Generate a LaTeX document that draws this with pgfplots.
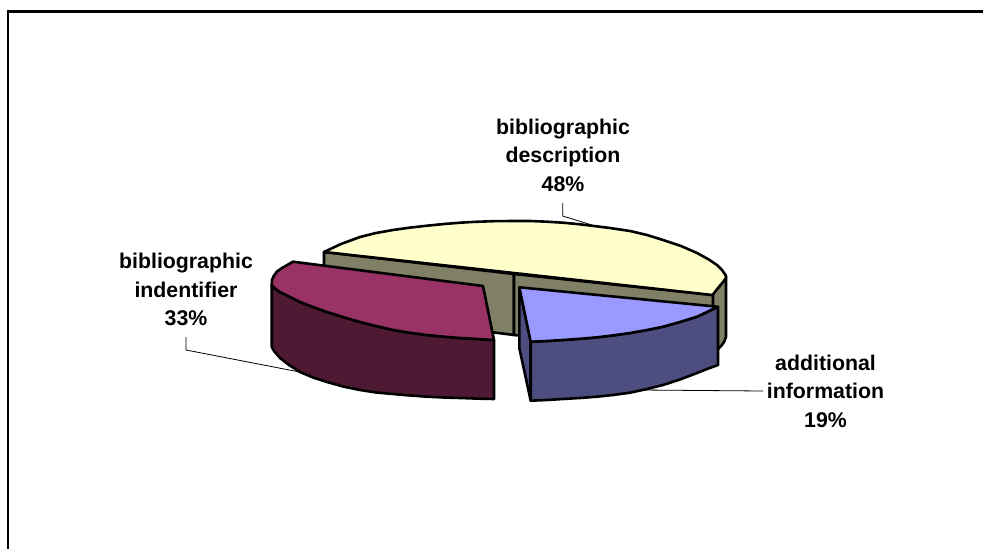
\documentclass[border=0pt]{standalone}
\usepackage{fontspec}
\setmainfont{Liberation Sans}
\usepackage{pgfplots}
\pgfplotsset{compat=1.18}
\definecolor{creamtop}{HTML}{FFFFCC}
\definecolor{creamwall}{HTML}{808066}
\definecolor{plumtop}{HTML}{993366}
\definecolor{plumwall}{HTML}{4D1933}
\definecolor{bluetop}{HTML}{9999FF}
\definecolor{bluewall}{HTML}{4D4D80}
\pgfplotsset{
  face/.style={draw=black, line width=2.6pt, line join=round, fill=#1, mark=none},
  leader/.style={draw=black, line width=0.8pt, mark=none},
}
\newcommand{\lbl}[3]{\node[anchor=base, font=\bfseries\fontsize{21.3}{24}\selectfont, inner sep=0pt] at (axis cs:#1,#2) {#3};}
\begin{document}
\begin{tikzpicture}
\begin{axis}[
  width=983pt, height=549pt, scale only axis,
  xmin=0, xmax=983, ymin=0, ymax=549, y dir=reverse,
  hide axis, clip=true,
  axis background/.style={fill=white},
]
% outer frame: only the top and left edges are visible
\addplot[draw=black, line width=2.6pt, mark=none] coordinates {(8,549) (8,11.7) (983,11.7)};

% leader lines behind the pie
\addplot[leader] coordinates {(186,337) (186,350) (310,374)};
\addplot[leader] coordinates {(562.7,203) (562.7,216) (592,225)};
\addplot[leader] coordinates {(640,390) (763,391)};

% cream slice: outer wall, two cut faces, top
\addplot[face=creamwall] coordinates {(712,295) (718,288) (723,282) (726,276) (726,337) (724.5,341) (722,345) (718,349) (712,356)} -- cycle;
\addplot[face=creamwall] coordinates {(324,252) (514,274) (514,335) (324,311)} -- cycle;
\addplot[face=creamwall] coordinates {(514,274) (713,295) (713,356) (514,335)} -- cycle;
\addplot[face=creamtop] coordinates {
  (324,252) (341,244) (360,237) (376,233) (393,230) (410,227.6) (427,225.7) (444,224) (460,222.7) (476,221.8)
  (493,221.2) (512,221) (530,221) (547,221.7) (563,222.7) (577,224) (590,225.5) (610,228) (630,231) (647,235)
  (663,240) (681,246) (697,253) (708,259) (717,265) (722,270) (725.5,275) (726,278) (723,282) (718,288) (712.5,295)
} -- cycle;

% plum slice, pulled out to the left
\addplot[face=plumwall] coordinates {
  (271.7,285) (275,288.5) (280,292) (290,297) (300,302) (313,307) (327,312) (343,317) (360,322) (376,326) (393,330)
  (410,332.8) (427,335) (444,336.7) (460,338) (477,339) (494,340)
  (494,399) (477,398.6) (460,398) (444,397.5) (427,396.7) (410,395.5) (393,394) (376,392.5) (360,390) (343,386.5)
  (327,382) (313,377.5) (300,372) (289,365) (280,358) (274,351) (271.7,346.7)
} -- cycle;
\addplot[face=plumtop] coordinates {
  (293,261.7) (483,286) (494,340) (477,339) (460,338) (444,336.7) (427,335) (410,332.8) (393,330) (376,326) (360,322)
  (343,317) (327,312) (313,307) (300,302) (290,297) (280,292) (275,288.5) (271.7,285) (272,280) (274,275.5) (277,271.5) (282,268)
} -- cycle;

% blue slice, pulled out to the front
\addplot[face=bluewall] coordinates {(519.3,287.3) (530.7,341.7) (530.7,400.7) (519.3,348)} -- cycle;
\addplot[face=bluewall] coordinates {
  (530.7,341.7) (547,341) (563,340) (580,338.8) (597,337.3) (613,335.4) (630,333) (647,330) (663,326.7) (680,322)
  (697,316.7) (707,312) (718,306.7)
  (718,365) (707,369) (697,373) (680,379.5) (663,385) (647,389) (630,392.7) (613,395) (597,396.7) (580,398) (563,399)
  (547,400) (530.7,400.7)
} -- cycle;
\addplot[face=bluetop] coordinates {
  (519.3,287.3) (717.5,306.7) (707,312) (697,316.7) (680,322) (663,326.7) (647,330) (630,333) (613,335.4) (597,337.3)
  (580,338.8) (563,340) (547,341) (530.7,341.7)
} -- cycle;

% slice labels
\lbl{563}{134}{bibliographic}
\lbl{563}{162.5}{description}
\lbl{563}{191}{48\%}
\lbl{186}{268}{bibliographic}
\lbl{186}{297}{indentifier}
\lbl{186}{325}{33\%}
\lbl{825.5}{370}{additional}
\lbl{825.5}{398.5}{information}
\lbl{825.5}{427}{19\%}
\end{axis}
\end{tikzpicture}
\end{document}
